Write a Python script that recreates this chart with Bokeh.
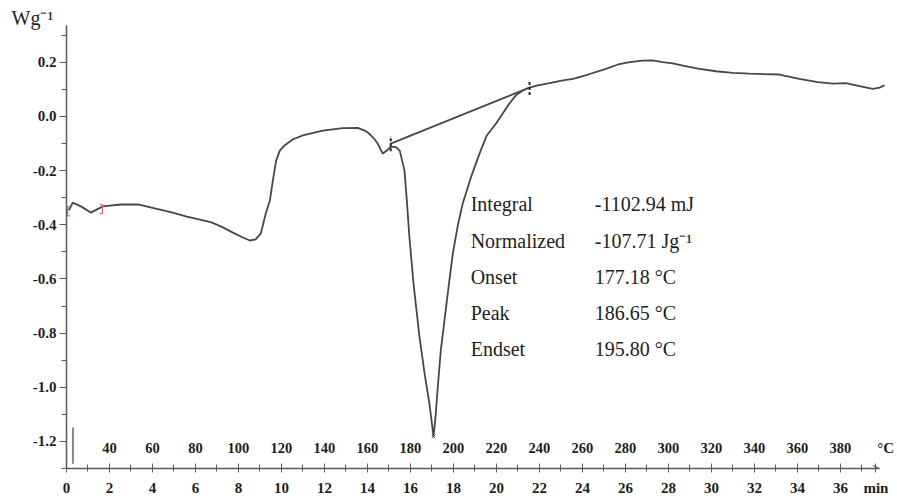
import numpy as np
from bokeh.plotting import figure
from bokeh.models import (Range1d, FixedTicker, PrintfTickFormatter, Label, Arrow,
                          OpenHead)
from bokeh.core.properties import value
from bokeh.embed import file_html
from bokeh.resources import INLINE

# ---------------- data ----------------
time_min = [0.11, 0.29, 0.67, 1.13, 1.69, 2.53, 3.32, 4.25, 4.94, 5.55, 6.71, 7.18, 7.74,
            8.20, 8.53, 8.80, 9.04, 9.27, 9.46, 9.60, 9.75, 9.92, 10.14, 10.52, 10.99,
            11.92, 12.85, 13.55, 13.87, 14.09, 14.34, 14.48, 14.71, 14.90, 15.08, 15.32,
            15.50, 15.72, 15.83, 15.95, 16.15, 16.42, 16.67, 16.88, 16.99, 17.07, 17.15,
            17.27, 17.41, 17.58, 17.78, 17.97, 18.20, 18.43, 18.81, 19.21, 19.55, 19.98,
            20.29, 20.60, 20.90, 21.22, 21.54, 21.92, 22.47, 23.09, 23.56, 24.26, 25.09,
            25.66, 26.19, 26.80, 27.25, 27.73, 28.20, 28.67, 29.37, 30.21, 30.99, 31.77,
            33.16, 34.09, 34.95, 35.65, 36.26, 36.94, 37.50, 37.83, 38.05]
heat_flow = [-0.347, -0.318, -0.332, -0.355, -0.332, -0.325, -0.325, -0.342, -0.355,
             -0.369, -0.390, -0.406, -0.429, -0.447, -0.458, -0.454, -0.432, -0.358,
             -0.310, -0.236, -0.163, -0.126, -0.107, -0.085, -0.070, -0.052, -0.043,
             -0.042, -0.052, -0.064, -0.085, -0.101, -0.137, -0.126, -0.111, -0.113,
             -0.126, -0.199, -0.310, -0.446, -0.624, -0.815, -0.957, -1.060, -1.130,
             -1.182, -1.123, -1.000, -0.864, -0.754, -0.624, -0.506, -0.403, -0.321,
             -0.225, -0.137, -0.070, -0.026, 0.011, 0.048, 0.078, 0.096, 0.107, 0.115,
             0.123, 0.133, 0.139, 0.155, 0.176, 0.192, 0.201, 0.206, 0.207, 0.201,
             0.196, 0.188, 0.177, 0.167, 0.161, 0.158, 0.155, 0.139, 0.127, 0.121,
             0.123, 0.111, 0.102, 0.107, 0.115]

baseline_t = [15.08, 21.54]
baseline_y = [-0.100, 0.107]

bracket_t = [0.05, 1.67]
bracket_y = [-0.350, -0.342]

start_mark_t = [0.30]
start_mark_y = [-1.149, -1.282]

min_ticks = [0, 2, 4, 6, 8, 10, 12, 14, 16, 18, 20, 22, 24, 26, 28, 30, 32, 34, 36]
min_unit_pos = 37.65
temp_tick_pos = [2, 4, 6, 8, 10, 12, 14, 16, 18, 20, 22, 24, 26, 28, 30, 32, 34, 36]
temp_tick_labels = ["40", "60", "80", "100", "120", "140", "160", "180", "200", "220",
                    "240", "260", "280", "300", "320", "340", "360", "380"]
y_ticks = [-1.2, -1.0, -0.8, -0.6, -0.4, -0.2, 0.0, 0.2]

result_names = ["Integral", "Normalized", "Onset", "Peak", "Endset"]
result_values = ["-1102.94 mJ", "-107.71 Jg\u207b\u00b9", "177.18 \u00b0C",
                 "186.65 \u00b0C", "195.80 \u00b0C"]

# ---------------- figure ----------------
SERIF = "Liberation Serif"
AX = "#5a5a5a"
INK = "#1e1e1e"

p = figure(width=897, height=499, output_backend="svg", toolbar_location=None,
           x_range=Range1d(0.0, 38.56), y_range=Range1d(-1.300, 0.336),
           min_border_left=66, min_border_right=2, min_border_top=25,
           min_border_bottom=31)
p.outline_line_color = None
p.xgrid.visible = False
p.ygrid.visible = False
p.background_fill_color = "white"
p.border_fill_color = "white"

# unit of the y axis, drawn as the (left-aligned) title
p.title.text = "Wg\u207b\u00b9"
p.title.align = "left"
p.title.offset = -55
p.title.standoff = -7
p.title.text_font = SERIF
p.title.text_font_style = "normal"
p.title.text_font_size = "20px"
p.title.text_color = INK

# y axis
ya = p.yaxis[0]
ya.ticker = FixedTicker(ticks=y_ticks, minor_ticks=[round(-1.3 + 0.1 * i, 1) for i in range(17)])
ya.formatter = PrintfTickFormatter(format="%.1f")
ya.axis_line_color = AX
ya.axis_line_width = 1.5
ya.major_tick_line_color = AX
ya.minor_tick_line_color = AX
ya.major_tick_in = 0
ya.major_tick_out = 7
ya.minor_tick_in = 0
ya.minor_tick_out = 5
ya.major_label_standoff = 3
ya.major_label_text_font = SERIF
ya.major_label_text_font_style = "bold"
ya.major_label_text_font_size = "15px"
ya.major_label_text_color = INK

# x axis (minutes); the unit "min" sits at the end of the tick-label row
xa = p.xaxis[0]
xa.bounds = (0.0, 37.8)
xa.ticker = FixedTicker(ticks=min_ticks + [min_unit_pos], minor_ticks=list(range(0, 38)))
xa.major_label_overrides = {min_unit_pos: "min"}
xa.axis_line_color = AX
xa.axis_line_width = 1.5
xa.major_tick_line_color = AX
xa.minor_tick_line_color = AX
xa.major_tick_in = 5
xa.major_tick_out = 4
xa.minor_tick_in = 4
xa.minor_tick_out = 3
xa.major_label_standoff = 7
xa.major_label_text_font = SERIF
xa.major_label_text_font_style = "bold"
xa.major_label_text_font_size = "15px"
xa.major_label_text_color = INK

# axis arrow head
p.add_layout(Arrow(x_start=37.3, y_start=-1.3, x_end=37.8, y_end=-1.3,
                   line_color=AX, line_width=1.2,
                   end=OpenHead(size=6, line_color=AX, line_width=1.2)))

# temperature labels (second scale drawn above the axis line)
p.text(x=temp_tick_pos, y=[-1.223] * len(temp_tick_pos), text=temp_tick_labels,
       text_font=value(SERIF), text_font_style="bold", text_font_size="14.5px",
       text_align="center", text_baseline="middle", text_color=INK)

# curve
p.line(time_min, heat_flow, line_color="#474747", line_width=1.8)

# integration baseline
p.line(baseline_t, baseline_y, line_color="#474747", line_width=1.8)
for t0, y0 in zip(baseline_t, baseline_y):
    p.segment(x0=[t0], y0=[y0 - 0.028], x1=[t0], y1=[y0 + 0.028],
              line_color="#222222", line_width=2, line_dash="3 2")

# peak marker
i_min = int(np.argmin(heat_flow))
p.scatter([time_min[i_min]], [heat_flow[i_min]], marker="x", size=5,
          line_color="#505050", line_width=1)

# red brackets at the start
xs, ys = [], []
for k, (bt, by) in enumerate(zip(bracket_t, bracket_y)):
    d = 0.12 if k == 0 else -0.12
    xs.append([bt + d, bt, bt, bt + d])
    ys.append([by + 0.017, by + 0.017, by - 0.017, by - 0.017])
p.multi_line(xs, ys, line_color="#e06a6a", line_width=1.2)

# small start mark near origin
p.segment(x0=start_mark_t, y0=[start_mark_y[0]], x1=start_mark_t, y1=[start_mark_y[1]],
          line_color="#8a8a8a", line_width=2)

# results table
row_y = [-0.325 - 0.1335 * i for i in range(len(result_names))]
p.text(x=[18.80] * len(result_names), y=row_y, text=result_names,
       text_font=value(SERIF), text_font_size="20px", text_align="left",
       text_baseline="middle", text_color=INK)
p.text(x=[24.57] * len(result_values), y=row_y, text=result_values,
       text_font=value(SERIF), text_font_size="20px", text_align="left",
       text_baseline="middle", text_color=INK)

# temperature unit
p.add_layout(Label(x=38.1, y=-1.223, text="\u00b0C", text_font=SERIF,
                   text_font_style="bold", text_font_size="15px", text_color=INK,
                   text_align="center", text_baseline="middle"))

open("out.html", "w").write(file_html(p, INLINE))
